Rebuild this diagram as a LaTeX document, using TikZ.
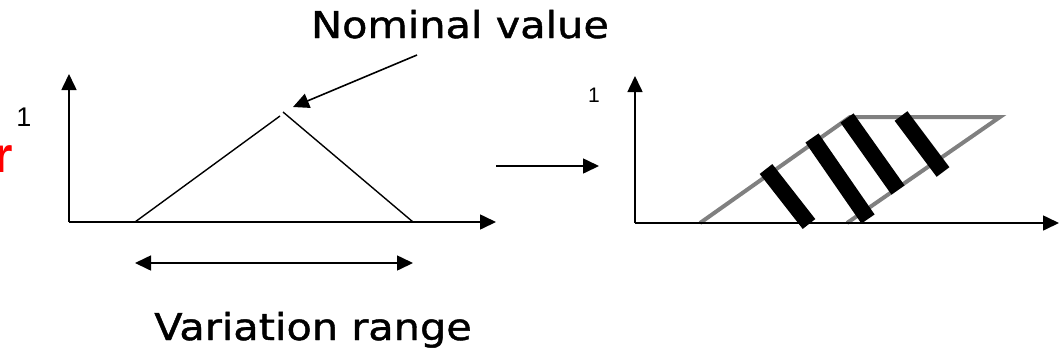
\documentclass[tikz,border=0pt]{standalone}
\usepackage{fontspec}
\usepackage{xcolor}
\usetikzlibrary{arrows.meta}
\newfontfamily\handfont[FakeStretch=1.12, FakeBold=1.2]{DejaVu Sans}
\newfontfamily\labelfont{Liberation Sans}

\begin{document}
\begin{tikzpicture}[x=1pt, y=-1pt,
  axisline/.style={line width=1.6pt, -{Triangle[length=16pt,width=15pt]}},
  pointer/.style={line width=1.6pt, -{Triangle[length=16pt,width=15pt]}},
  bigtext/.style={font=\handfont\fontsize{37}{40}\selectfont, inner sep=0pt, anchor=base},
  onelabel/.style={inner sep=0pt}]
  \useasboundingbox (0,0) rectangle (1059,357);

  % Left membership function: axes and triangle.
  \coordinate (lo) at (69,222);
  \coordinate (ly) at (69,74);
  \coordinate (lx) at (496,222);
  \coordinate (tl) at (135,222);
  \coordinate (tapexl) at (280,116);
  \coordinate (tapexr) at (283,112);
  \coordinate (tr) at (413,222);
  \draw[line width=1.4pt] (tl) -- (tapexl);
  \draw[line width=1.4pt] (tapexr) -- (tr);
  \draw[axisline] (lo) -- (ly);
  \draw[axisline] (lo) -- (lx);

  % Labels on the left.
  \node[onelabel, font=\labelfont\fontsize{27}{30}\selectfont] (oneleft) at (24,117) {1};
  \node[inner sep=0pt, anchor=base east, text=red,
        font=\labelfont\bfseries\fontsize{50}{54}\selectfont] (rlabel) at (13,172) {r};

  % Nominal value and its arrow.
  \node[bigtext] (nominal) at (460,38) {Nominal value};
  \coordinate (nomtail) at (417,55);
  \coordinate (nomtip) at (293,107);
  \draw[pointer] (nomtail) -- (nomtip);

  % Variation range.
  \coordinate (vleft) at (135,263);
  \coordinate (vright) at (413,263);
  \draw[line width=1.6pt, {Triangle[length=16pt,width=15pt]}-{Triangle[length=16pt,width=15pt]}]
    (vleft) -- (vright);
  \node[bigtext] (variation) at (313,340) {Variation range};

  % Transition arrow.
  \coordinate (mfrom) at (496,166);
  \coordinate (mto) at (599,166);
  \draw[pointer] (mfrom) -- (mto);

  % Right membership function: band with bars.
  \coordinate (ro) at (635,223);
  \coordinate (ry) at (635,76);
  \coordinate (rx) at (1059,223);
  \coordinate (pbl) at (700,223);
  \coordinate (ptl) at (850,117);
  \coordinate (ptr) at (1000,117);
  \coordinate (pbr) at (847,223);
  \draw[line width=4pt, black!50, line join=miter] (pbl) -- (ptl) -- (ptr) -- (pbr);
  \foreach \xa/\ya/\xb/\yb in {766/169/809/224, 812/138/868/219, 847/118/898/190, 901/116/943/172}{
    \draw[line width=16pt] (\xa,\ya) -- (\xb,\yb);
  }
  \draw[axisline] (ro) -- (ry);
  \draw[axisline] (ro) -- (rx);
  \node[onelabel, font=\labelfont\fontsize{21}{24}\selectfont] (oneright) at (594,95) {1};
\end{tikzpicture}
\end{document}
